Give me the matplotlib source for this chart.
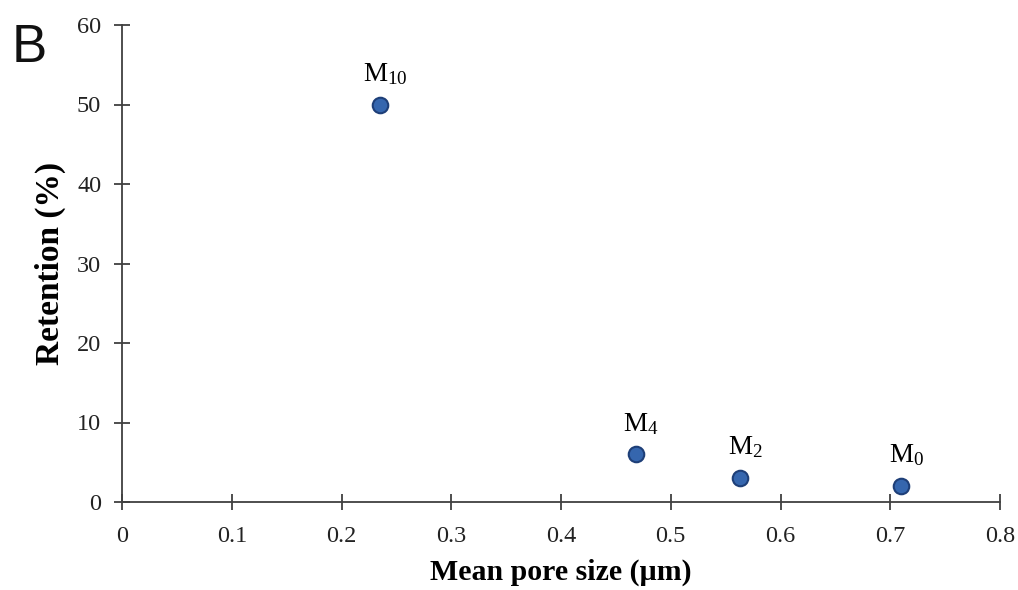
import matplotlib
matplotlib.use("Agg")
import matplotlib.pyplot as plt

# Mean pore size (µm) vs. retention (%) for each membrane
membranes = ["M$_{10}$", "M$_4$", "M$_2$", "M$_0$"]
pore_size = [0.235, 0.468, 0.563, 0.710]
retention = [50, 6, 3, 2]

x_ticks = [0, 0.1, 0.2, 0.3, 0.4, 0.5, 0.6, 0.7, 0.8]
x_tick_labels = ["0", "0.1", "0.2", "0.3", "0.4", "0.5", "0.6", "0.7", "0.8"]
y_ticks = [0, 10, 20, 30, 40, 50, 60]

plt.rcParams["font.family"] = ["Liberation Serif", "DejaVu Serif"]
plt.rcParams["mathtext.fontset"] = "custom"
plt.rcParams["mathtext.rm"] = "Liberation Serif"
plt.rcParams["mathtext.it"] = "Liberation Serif"

fig = plt.figure(figsize=(10.18, 5.90), dpi=100)
ax = fig.add_axes([122 / 1018, 1 - 502 / 590, 878 / 1018, 477 / 590])

ax.scatter(pore_size, retention, s=125, color="#3566AE", edgecolor="#1E3F78",
           linewidth=1.5, zorder=3, clip_on=False)

for name, x, y in zip(membranes, pore_size, retention):
    ax.annotate(name, (x, y), xytext=(4, 17), textcoords="offset points",
                ha="center", va="baseline", fontsize=19.5, color="black")

ax.set_xlim(0, 0.8)
ax.set_ylim(0, 60)
ax.set_xticks(x_ticks)
ax.set_xticklabels(x_tick_labels)
ax.set_yticks(y_ticks)

for side in ("top", "right"):
    ax.spines[side].set_visible(False)
for side in ("left", "bottom"):
    ax.spines[side].set_color("#404040")
    ax.spines[side].set_linewidth(1.3)

ax.tick_params(axis="both", direction="inout", length=12, width=1.3,
               color="#404040", labelsize=17.5, labelcolor="#222222")
ax.tick_params(axis="x", pad=11)
ax.tick_params(axis="y", pad=9)

ax.set_xlabel("Mean pore size (µm)", fontsize=21.5, fontweight="bold")
ax.set_ylabel("Retention (%)", fontsize=24, fontweight="bold")
ax.xaxis.set_label_coords(0.5, -0.118)
ax.yaxis.set_label_coords(-0.064, 0.5)

fig.text(12 / 1018, 1 - 62 / 590, "B", fontsize=38, family="Liberation Sans",
         ha="left", va="baseline", color="#111111")

fig.savefig("out.png", dpi=100)
